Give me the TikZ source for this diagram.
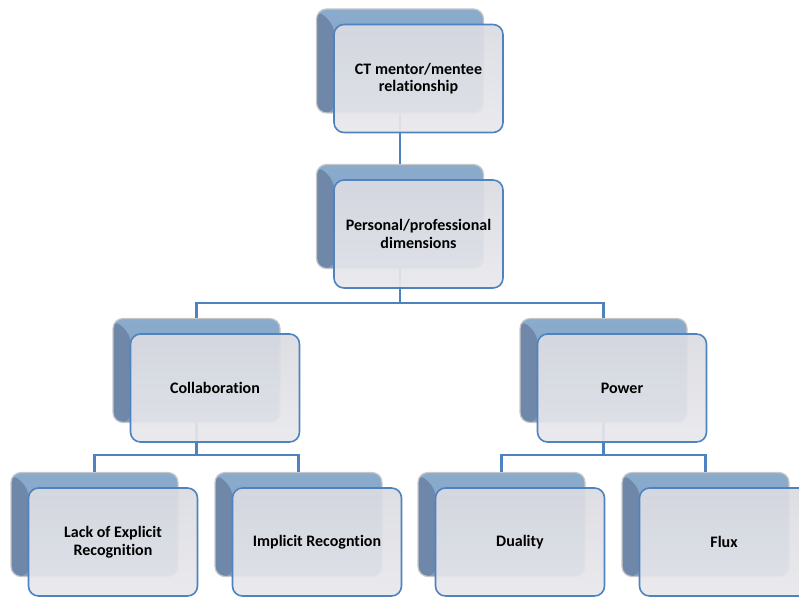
\documentclass[tikz,border=0pt]{standalone}
\usepackage{fontspec}
\setmainfont{Carlito}[Ligatures=CommonOff]

\definecolor{bktop}{HTML}{8BABCD}
\definecolor{bkbot}{HTML}{7F9FC2}
\definecolor{bkside}{HTML}{6F88A9}
\definecolor{frtop}{HTML}{DADBE1}
\definecolor{frbot}{HTML}{E8E8EC}
\definecolor{frline}{HTML}{4F83C0}

\begin{document}
\begin{tikzpicture}[x=1pt,y=-1pt,
  backbox/.style={rectangle, rounded corners=10pt, minimum width=167pt, minimum height=104pt,
    draw=black!22, line width=1.2pt, top color=bktop, bottom color=bkbot,
    path picture={\fill[bkside] (path picture bounding box.north west)
      -- ([shift={(18,16)}]path picture bounding box.north west)
      |- (path picture bounding box.south west) -- cycle;}},
  frontbox/.style={rectangle, rounded corners=10pt, minimum width=169pt, minimum height=108pt,
    draw=frline, line width=1.6pt, top color=frtop, bottom color=frbot,
    fill opacity=0.92, text opacity=1, align=center,
    font=\bfseries\fontsize{16}{17.7}\selectfont},
  link/.style={draw=frline, line width=2.6pt}]

\useasboundingbox (0,0) rectangle (799,596);
\clip (0,0) rectangle (799,596);

% back plates
\node (rel-b)  [backbox] at (400,61) {};
\node (dim-b)  [backbox] at (400,216.5) {};
\node (col-b)  [backbox] at (196.5,370.5) {};
\node (pow-b)  [backbox] at (603.5,370.5) {};
\node (lack-b) [backbox] at (94.5,524.5) {};
\node (impl-b) [backbox] at (298.5,524.5) {};
\node (dual-b) [backbox] at (501.5,524.5) {};
\node (flux-b) [backbox] at (705.5,524.5) {};

% connectors
\coordinate (dim-j) at (400,303);
\coordinate (col-j) at (196.5,455);
\coordinate (pow-j) at (603.5,455);

\draw [link] (rel-b) -- (dim-b);
\draw [link] (dim-b.south) -- (dim-j) -| (col-b.north);
\draw [link] (dim-j) -| (pow-b.north);
\draw [link] (col-b.south) -- (col-j) -| (lack-b.north);
\draw [link] (col-j) -| (impl-b.north);
\draw [link] (pow-b.south) -- (pow-j) -| (dual-b.north);
\draw [link] (pow-j) -| (flux-b.north);

% front boxes
\node (rel)  [frontbox] at ([shift={(18.5,17.5)}]rel-b.center) {CT mentor/mentee\\relationship};
\node (dim)  [frontbox] at ([shift={(18.5,17.5)}]dim-b.center) {Personal/professional\\dimensions};
\node (col)  [frontbox] at ([shift={(18.5,17.5)}]col-b.center) {Collaboration};
\node (pow)  [frontbox] at ([shift={(18.5,17.5)}]pow-b.center) {Power};
\node (lack) [frontbox] at ([shift={(18.5,17.5)}]lack-b.center) {Lack of Explicit\\Recognition};
\node (impl) [frontbox] at ([shift={(18.5,17.5)}]impl-b.center) {Implicit Recogntion};
\node (dual) [frontbox] at ([shift={(18.5,17.5)}]dual-b.center) {Duality};
\node (flux) [frontbox] at ([shift={(18.5,17.5)}]flux-b.center) {Flux};
\end{tikzpicture}
\end{document}
